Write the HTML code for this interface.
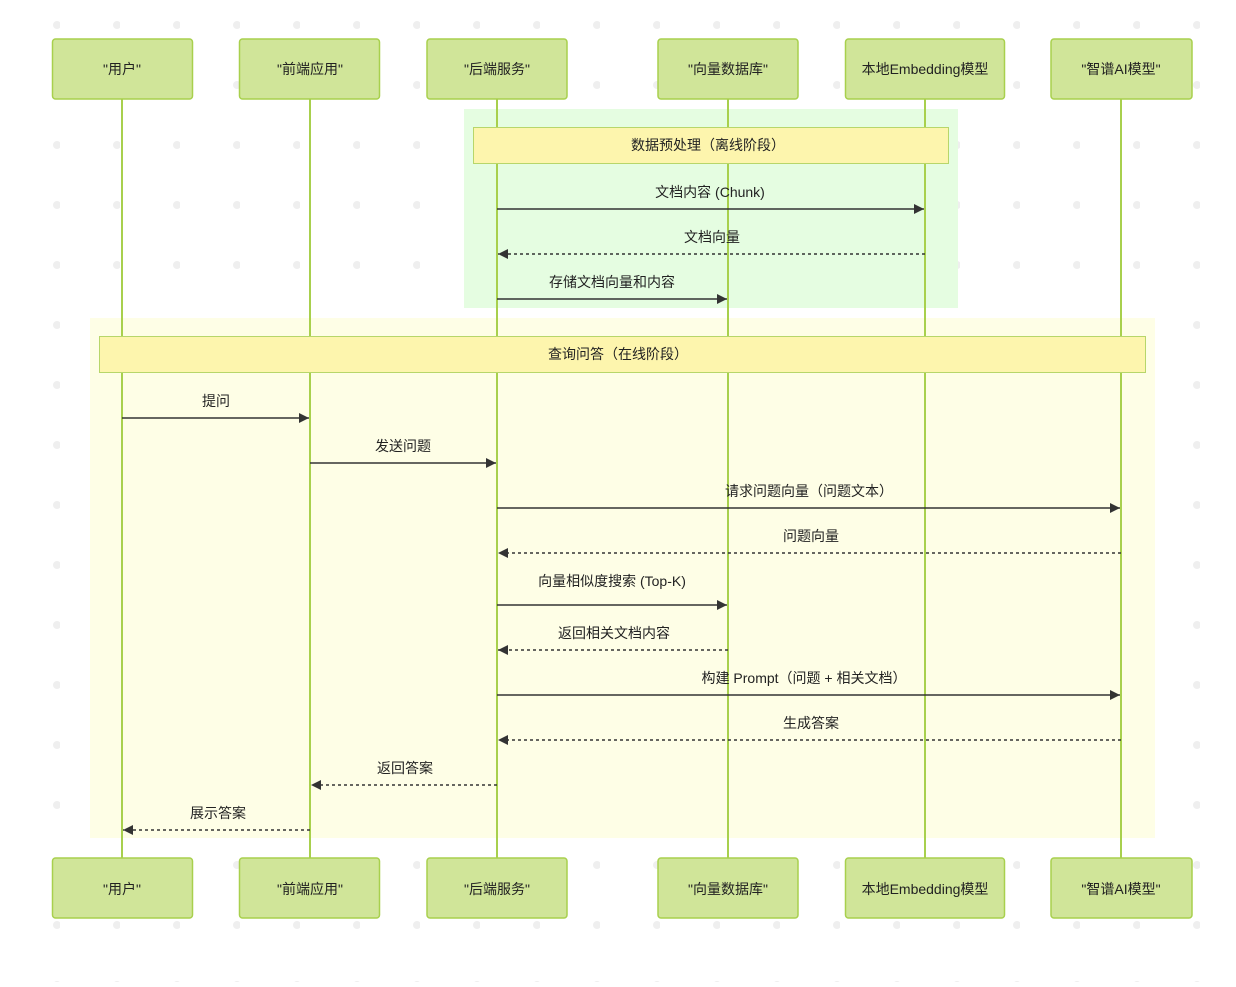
<!DOCTYPE html>
<html><head><meta charset="utf-8"><style>
html,body{margin:0;padding:0;background:#fff}
svg text{font-family:"Liberation Sans","Noto Sans CJK SC",sans-serif;font-size:14px;fill:#222}
</style></head><body>
<svg width="1236" height="982" xmlns="http://www.w3.org/2000/svg">
<defs>
<pattern id="dots" x="0" y="0" width="60" height="60" patternUnits="userSpaceOnUse">
<circle cx="57" cy="25" r="4" fill="#efefef"/>
</pattern>
<marker id="ah" viewBox="0 0 10 10" refX="10" refY="5" markerWidth="10" markerHeight="10" orient="auto-start-reverse" markerUnits="userSpaceOnUse">
<path d="M0,0 L10,5 L0,10 z" fill="#333"/>
</marker>
</defs>
<rect width="1236" height="982" fill="url(#dots)"/>
<rect x="464" y="109" width="494" height="199" fill="#e5fde1"/>
<rect x="90" y="318" width="1065" height="520" fill="#fefee6"/>
<g stroke="#a8d04d" stroke-width="2">
<line x1="122" y1="99" x2="122" y2="858"/>
<line x1="310" y1="99" x2="310" y2="858"/>
<line x1="497" y1="99" x2="497" y2="858"/>
<line x1="728" y1="99" x2="728" y2="858"/>
<line x1="925" y1="99" x2="925" y2="858"/>
<line x1="1121" y1="99" x2="1121" y2="858"/>
</g>
<g fill="#d0e599" stroke="#a8d04d" stroke-width="1.5">
<rect x="52.5" y="39" width="140" height="60" rx="3"/>
<rect x="239.5" y="39" width="140" height="60" rx="3"/>
<rect x="427" y="39" width="140" height="60" rx="3"/>
<rect x="658" y="39" width="140" height="60" rx="3"/>
<rect x="845.5" y="39" width="159" height="60" rx="3"/>
<rect x="1051" y="39" width="141" height="60" rx="3"/>
<rect x="52.5" y="858" width="140" height="60" rx="3"/>
<rect x="239.5" y="858" width="140" height="60" rx="3"/>
<rect x="427" y="858" width="140" height="60" rx="3"/>
<rect x="658" y="858" width="140" height="60" rx="3"/>
<rect x="845.5" y="858" width="159" height="60" rx="3"/>
<rect x="1051" y="858" width="141" height="60" rx="3"/>
</g>
<g text-anchor="middle">
<text x="122" y="74">"用户"</text><text x="310" y="74">"前端应用"</text><text x="497" y="74">"后端服务"</text><text x="728" y="74">"向量数据库"</text><text x="925" y="74">本地Embedding模型</text><text x="1121" y="74">"智谱AI模型"</text>
<text x="122" y="894">"用户"</text><text x="310" y="894">"前端应用"</text><text x="497" y="894">"后端服务"</text><text x="728" y="894">"向量数据库"</text><text x="925" y="894">本地Embedding模型</text><text x="1121" y="894">"智谱AI模型"</text>
</g>
<rect x="473.5" y="127.5" width="475" height="36" fill="#fdf5ad" stroke="#b7d66a"/>
<rect x="99.5" y="336.5" width="1046" height="36" fill="#fdf5ad" stroke="#b7d66a"/>
<g text-anchor="middle">
<text x="708" y="150">数据预处理（离线阶段）</text>
<text x="618" y="359">查询问答（在线阶段）</text>
</g>
<g stroke="#333" stroke-width="1.5" fill="none" marker-end="url(#ah)">
<line x1="497" y1="209" x2="924" y2="209"/>
<line x1="925" y1="254" x2="498" y2="254" stroke-dasharray="3,3"/>
<line x1="497" y1="299" x2="727" y2="299"/>
<line x1="122" y1="418" x2="309" y2="418"/>
<line x1="310" y1="463" x2="496" y2="463"/>
<line x1="497" y1="508" x2="1120" y2="508"/>
<line x1="1121" y1="553" x2="498" y2="553" stroke-dasharray="3,3"/>
<line x1="497" y1="605" x2="727" y2="605"/>
<line x1="728" y1="650" x2="498" y2="650" stroke-dasharray="3,3"/>
<line x1="497" y1="695" x2="1120" y2="695"/>
<line x1="1121" y1="740" x2="498" y2="740" stroke-dasharray="3,3"/>
<line x1="497" y1="785" x2="311" y2="785" stroke-dasharray="3,3"/>
<line x1="310" y1="830" x2="123" y2="830" stroke-dasharray="3,3"/>
</g>
<g text-anchor="middle">
<text x="710" y="197">文档内容 (Chunk)</text>
<text x="712" y="242">文档向量</text>
<text x="612" y="287">存储文档向量和内容</text>
<text x="216" y="406">提问</text>
<text x="403" y="451">发送问题</text>
<text x="809" y="496">请求问题向量（问题文本）</text>
<text x="811" y="541">问题向量</text>
<text x="612" y="586">向量相似度搜索 (Top-K)</text>
<text x="614" y="638">返回相关文档内容</text>
<text x="804" y="683">构建 Prompt（问题 + 相关文档）</text>
<text x="811" y="728">生成答案</text>
<text x="405" y="773">返回答案</text>
<text x="218" y="818">展示答案</text>
</g>
</svg>
</body></html>
